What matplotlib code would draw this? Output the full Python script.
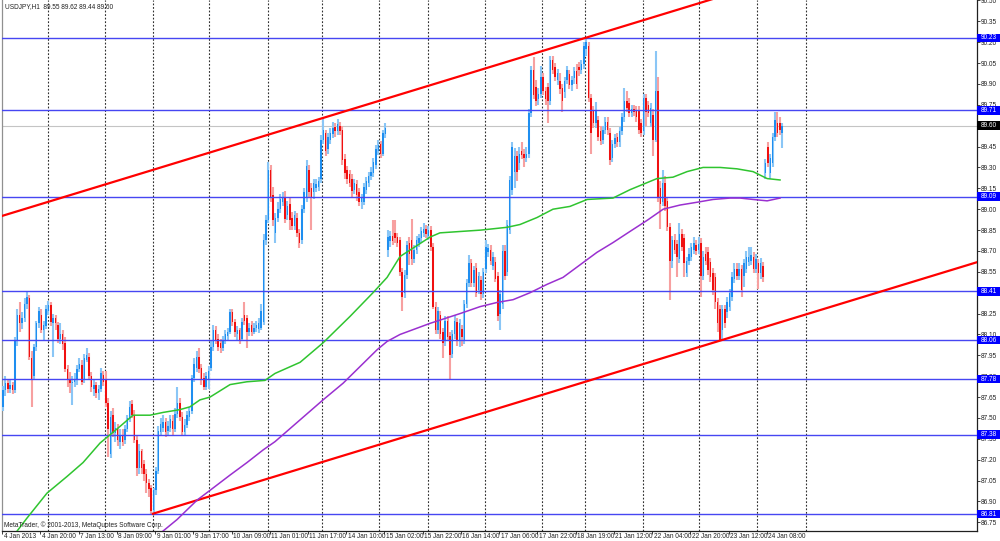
import matplotlib
matplotlib.use("Agg")
import matplotlib.pyplot as plt
import matplotlib.transforms as mtransforms
from matplotlib.patches import Rectangle

# USDJPY H1 bars, 4 Jan 2013 .. 24 Jan 2013
opens = [
    87.58, 87.70, 87.75, 87.71, 87.74, 87.70, 88.06, 88.24, 88.18, 88.22,
    88.32, 88.36, 87.93, 87.80, 88.01, 88.18, 88.24, 88.13, 88.16, 88.27,
    88.31, 88.18, 88.22, 88.17, 88.07, 88.10, 88.04, 87.85, 87.78, 87.75,
    87.76, 87.77, 87.85, 87.88, 87.77, 87.92, 87.94, 87.80, 87.71, 87.74,
    87.68, 87.71, 87.81, 87.78, 87.61, 87.24, 87.52, 87.39, 87.43, 87.33,
    87.38, 87.34, 87.42, 87.50, 87.60, 87.52, 87.34, 87.14, 87.26, 87.17,
    87.10, 87.03, 87.00, 86.84, 86.98, 87.12, 87.40, 87.43, 87.47, 87.41,
    87.43, 87.48, 87.42, 87.53, 87.61, 87.51, 87.40, 87.45, 87.51, 87.55,
    87.79, 87.86, 87.94, 87.86, 87.79, 87.72, 87.77, 87.86, 88.01, 88.13,
    88.07, 88.04, 88.00, 88.06, 88.09, 88.12, 88.26, 88.19, 88.10, 88.13,
    88.07, 88.24, 88.22, 88.12, 88.17, 88.12, 88.15, 88.14, 88.15, 88.19,
    88.78, 88.92, 89.28, 89.10, 88.83, 88.94, 89.00, 89.05, 89.08, 88.96,
    89.04, 88.94, 88.88, 88.94, 88.83, 88.78, 89.00, 89.09, 89.28, 89.15,
    89.12, 89.15, 89.16, 89.22, 89.50, 89.55, 89.43, 89.50, 89.54, 89.59,
    89.56, 89.60, 89.57, 89.36, 89.28, 89.25, 89.22, 89.14, 89.18, 89.12,
    89.05, 89.05, 89.14, 89.19, 89.24, 89.26, 89.32, 89.42, 89.47, 89.40,
    89.54, 88.71, 88.77, 88.81, 88.83, 88.80, 88.78, 88.55, 88.40, 88.53,
    88.76, 88.78, 88.64, 88.71, 88.76, 88.79, 88.83, 88.86, 88.81, 88.85,
    88.73, 88.30, 88.13, 88.24, 88.12, 88.05, 88.20, 88.09, 87.96, 88.10,
    88.19, 88.05, 88.14, 88.06, 88.32, 88.47, 88.61, 88.47, 88.58, 88.42,
    88.49, 88.39, 88.57, 88.69, 88.71, 88.59, 88.62, 88.52, 88.25, 88.32,
    88.70, 88.55, 88.85, 89.14, 89.27, 89.38, 89.33, 89.42, 89.40, 89.37,
    89.40, 89.69, 90.00, 89.88, 89.79, 89.83, 89.95, 89.85, 89.88, 89.78,
    90.07, 90.02, 89.93, 89.92, 89.87, 89.84, 89.93, 89.97, 89.89, 89.94,
    89.99, 90.02, 90.00, 90.04, 90.15, 90.17, 89.80, 89.71, 89.62, 89.64,
    89.56, 89.50, 89.57, 89.63, 89.55, 89.37, 89.47, 89.52, 89.48, 89.56,
    89.66, 89.78, 89.76, 89.69, 89.72, 89.71, 89.71, 89.62, 89.56, 89.80,
    89.75, 89.62, 89.68, 89.50, 89.85, 89.15, 89.05, 89.19, 89.06, 88.87,
    88.63, 88.78, 88.75, 88.64, 88.82, 88.79, 88.54, 88.63, 88.66, 88.71,
    88.74, 88.71, 88.76, 88.52, 88.68, 88.69, 88.62, 88.54, 88.51, 88.33,
    88.28, 88.13, 88.28, 88.26, 88.30, 88.37, 88.50, 88.57, 88.52, 88.57,
    88.52, 88.57, 88.62, 88.63, 88.66, 88.57, 88.61, 88.54, 88.59, 89.26,
    89.45, 89.26, 89.33, 89.52, 89.62, 89.62, 89.55,
]
highs = [
    87.73, 87.80, 87.78, 87.77, 87.76, 88.08, 88.28, 88.33, 88.26, 88.36,
    88.41, 88.38, 87.98, 88.03, 88.20, 88.30, 88.28, 88.20, 88.31, 88.34,
    88.33, 88.25, 88.24, 88.19, 88.18, 88.13, 88.08, 87.88, 87.83, 87.80,
    87.82, 87.88, 87.93, 87.92, 87.96, 88.00, 87.97, 87.83, 87.77, 87.76,
    87.74, 87.86, 87.84, 87.84, 87.64, 87.55, 87.57, 87.47, 87.46, 87.42,
    87.42, 87.45, 87.52, 87.62, 87.63, 87.56, 87.38, 87.31, 87.28, 87.20,
    87.13, 87.06, 87.02, 87.00, 87.15, 87.44, 87.50, 87.52, 87.50, 87.48,
    87.52, 87.52, 87.57, 87.72, 87.64, 87.54, 87.49, 87.55, 87.58, 87.81,
    87.93, 87.98, 88.00, 87.89, 87.82, 87.83, 87.87, 88.05, 88.17, 88.16,
    88.10, 88.07, 88.09, 88.13, 88.15, 88.28, 88.28, 88.21, 88.16, 88.15,
    88.22, 88.33, 88.24, 88.18, 88.20, 88.18, 88.20, 88.22, 88.32, 88.82,
    88.96, 89.34, 89.32, 89.16, 88.97, 89.05, 89.11, 89.12, 89.13, 89.06,
    89.08, 88.98, 88.99, 88.97, 88.86, 89.03, 89.15, 89.35, 89.32, 89.19,
    89.22, 89.22, 89.23, 89.53, 89.66, 89.57, 89.55, 89.58, 89.63, 89.62,
    89.65, 89.63, 89.60, 89.40, 89.31, 89.28, 89.25, 89.22, 89.21, 89.15,
    89.11, 89.19, 89.23, 89.27, 89.30, 89.37, 89.46, 89.50, 89.49, 89.57,
    89.62, 88.85, 88.84, 88.92, 88.92, 88.83, 88.80, 88.58, 88.56, 88.77,
    88.80, 88.93, 88.74, 88.81, 88.82, 88.87, 88.90, 88.89, 88.88, 88.88,
    88.76, 88.33, 88.30, 88.27, 88.15, 88.23, 88.23, 88.12, 88.13, 88.24,
    88.22, 88.21, 88.17, 88.35, 88.50, 88.67, 88.64, 88.59, 88.61, 88.55,
    88.52, 88.58, 88.78, 88.75, 88.74, 88.69, 88.66, 88.55, 88.42, 88.74,
    88.74, 88.92, 89.24, 89.48, 89.44, 89.42, 89.45, 89.48, 89.43, 89.45,
    89.72, 90.03, 90.09, 89.93, 89.87, 90.03, 89.98, 89.88, 89.91, 90.10,
    90.10, 90.05, 90.01, 89.98, 89.90, 89.95, 90.03, 90.00, 89.96, 90.02,
    90.04, 90.06, 90.07, 90.20, 90.23, 90.20, 89.83, 89.74, 89.77, 89.67,
    89.60, 89.60, 89.66, 89.66, 89.58, 89.50, 89.54, 89.55, 89.59, 89.69,
    89.87, 89.85, 89.80, 89.75, 89.75, 89.74, 89.74, 89.65, 89.83, 89.83,
    89.78, 89.76, 89.72, 90.14, 89.95, 89.20, 89.28, 89.24, 89.09, 88.90,
    88.81, 88.82, 88.78, 88.90, 88.86, 88.82, 88.66, 88.72, 88.76, 88.80,
    88.78, 88.80, 88.79, 88.70, 88.73, 88.73, 88.65, 88.58, 88.54, 88.36,
    88.31, 88.31, 88.31, 88.37, 88.43, 88.55, 88.61, 88.61, 88.61, 88.60,
    88.64, 88.70, 88.73, 88.73, 88.69, 88.68, 88.64, 88.65, 88.62, 89.36,
    89.48, 89.40, 89.55, 89.70, 89.70, 89.66, 89.62,
]
lows = [
    87.55, 87.66, 87.68, 87.68, 87.67, 87.68, 88.02, 88.12, 88.14, 88.19,
    88.28, 87.92, 87.58, 87.78, 87.98, 88.15, 88.11, 88.05, 88.14, 88.24,
    88.16, 87.94, 88.13, 88.04, 88.03, 87.99, 87.83, 87.72, 87.68, 87.59,
    87.72, 87.74, 87.83, 87.74, 87.75, 87.90, 87.77, 87.69, 87.66, 87.64,
    87.63, 87.69, 87.73, 87.58, 87.22, 87.21, 87.36, 87.33, 87.30, 87.28,
    87.30, 87.31, 87.40, 87.47, 87.50, 87.32, 87.08, 87.10, 87.10, 87.05,
    86.96, 86.93, 86.81, 86.82, 86.95, 87.10, 87.37, 87.40, 87.36, 87.38,
    87.40, 87.37, 87.40, 87.50, 87.48, 87.37, 87.37, 87.43, 87.48, 87.53,
    87.76, 87.83, 87.82, 87.74, 87.70, 87.70, 87.71, 87.84, 87.98, 88.03,
    87.98, 87.97, 87.98, 88.03, 88.06, 88.10, 88.16, 88.08, 88.06, 88.03,
    88.05, 88.17, 88.00, 88.09, 88.09, 88.10, 88.12, 88.11, 88.13, 88.17,
    88.74, 88.90, 89.05, 88.88, 88.76, 88.91, 88.97, 89.02, 88.90, 88.92,
    88.85, 88.85, 88.85, 88.80, 88.72, 88.75, 88.97, 89.05, 89.08, 88.85,
    89.07, 89.12, 89.13, 89.19, 89.47, 89.38, 89.40, 89.47, 89.51, 89.52,
    89.53, 89.53, 89.32, 89.22, 89.18, 89.16, 89.08, 89.11, 89.06, 89.02,
    89.00, 89.03, 89.11, 89.16, 89.21, 89.23, 89.29, 89.39, 89.37, 89.38,
    89.51, 88.66, 88.73, 88.74, 88.76, 88.73, 88.52, 88.27, 88.36, 88.50,
    88.60, 88.60, 88.61, 88.68, 88.73, 88.76, 88.80, 88.79, 88.78, 88.70,
    88.28, 88.10, 88.10, 88.07, 87.93, 88.02, 88.05, 87.77, 87.93, 88.07,
    88.02, 88.01, 88.02, 88.03, 88.29, 88.44, 88.44, 88.44, 88.37, 88.39,
    88.35, 88.36, 88.54, 88.66, 88.60, 88.56, 88.48, 88.20, 88.13, 88.28,
    88.49, 88.52, 88.82, 89.10, 89.15, 89.20, 89.28, 89.36, 89.30, 89.34,
    89.37, 89.66, 89.79, 89.74, 89.75, 89.80, 89.82, 89.75, 89.62, 89.75,
    89.97, 89.92, 89.89, 89.83, 89.70, 89.80, 89.90, 89.86, 89.85, 89.90,
    89.86, 89.96, 89.97, 90.01, 90.10, 89.77, 89.40, 89.58, 89.58, 89.49,
    89.46, 89.47, 89.54, 89.53, 89.32, 89.34, 89.44, 89.45, 89.45, 89.53,
    89.63, 89.70, 89.66, 89.66, 89.67, 89.63, 89.54, 89.52, 89.53, 89.60,
    89.66, 89.59, 89.38, 89.48, 89.05, 88.86, 89.02, 88.99, 88.84, 88.35,
    88.58, 88.68, 88.51, 88.61, 88.70, 88.51, 88.51, 88.60, 88.63, 88.68,
    88.67, 88.68, 88.37, 88.49, 88.60, 88.53, 88.48, 88.38, 88.28, 88.12,
    88.05, 88.06, 88.15, 88.22, 88.27, 88.34, 88.47, 88.49, 88.49, 88.37,
    88.44, 88.54, 88.59, 88.60, 88.54, 88.54, 88.43, 88.50, 88.48, 89.22,
    89.30, 89.22, 89.30, 89.49, 89.52, 89.53, 89.44,
]
closes = [
    87.70, 87.75, 87.71, 87.74, 87.70, 88.06, 88.24, 88.18, 88.22, 88.32,
    88.37, 87.94, 87.78, 88.01, 88.18, 88.27, 88.13, 88.17, 88.28, 88.31,
    88.19, 88.22, 88.18, 88.07, 88.10, 88.03, 87.85, 87.78, 87.75, 87.76,
    87.78, 87.85, 87.89, 87.76, 87.93, 87.95, 87.80, 87.72, 87.74, 87.68,
    87.71, 87.82, 87.76, 87.61, 87.42, 87.51, 87.39, 87.43, 87.34, 87.38,
    87.33, 87.42, 87.50, 87.58, 87.52, 87.34, 87.14, 87.26, 87.14, 87.10,
    87.03, 86.99, 86.83, 86.98, 87.12, 87.41, 87.46, 87.47, 87.40, 87.44,
    87.49, 87.42, 87.53, 87.61, 87.51, 87.40, 87.45, 87.52, 87.55, 87.79,
    87.89, 87.94, 87.85, 87.77, 87.72, 87.80, 87.84, 88.01, 88.13, 88.06,
    88.01, 88.00, 88.06, 88.10, 88.12, 88.26, 88.19, 88.12, 88.13, 88.06,
    88.19, 88.20, 88.12, 88.15, 88.12, 88.15, 88.17, 88.18, 88.27, 88.78,
    88.92, 89.28, 89.08, 88.92, 88.94, 89.00, 89.07, 89.09, 88.93, 89.02,
    88.92, 88.88, 88.96, 88.83, 88.76, 89.00, 89.12, 89.31, 89.12, 89.09,
    89.19, 89.18, 89.20, 89.50, 89.57, 89.42, 89.52, 89.55, 89.58, 89.56,
    89.61, 89.56, 89.35, 89.26, 89.22, 89.19, 89.13, 89.19, 89.10, 89.05,
    89.08, 89.16, 89.20, 89.24, 89.27, 89.34, 89.43, 89.46, 89.40, 89.55,
    89.58, 88.80, 88.81, 88.77, 88.79, 88.76, 88.55, 88.37, 88.53, 88.74,
    88.68, 88.64, 88.71, 88.78, 88.79, 88.84, 88.86, 88.82, 88.85, 88.73,
    88.30, 88.13, 88.27, 88.10, 88.04, 88.20, 88.08, 87.95, 88.10, 88.20,
    88.05, 88.18, 88.08, 88.32, 88.47, 88.61, 88.47, 88.56, 88.40, 88.52,
    88.39, 88.55, 88.73, 88.72, 88.63, 88.66, 88.50, 88.23, 88.39, 88.70,
    88.52, 88.89, 89.21, 89.45, 89.38, 89.27, 89.40, 89.39, 89.37, 89.40,
    89.69, 90.00, 89.82, 89.78, 89.83, 89.95, 89.85, 89.79, 89.78, 90.07,
    90.00, 89.95, 89.98, 89.86, 89.78, 89.92, 90.00, 89.89, 89.93, 89.99,
    89.90, 90.00, 90.04, 90.17, 90.20, 89.80, 89.55, 89.62, 89.71, 89.52,
    89.49, 89.57, 89.63, 89.57, 89.35, 89.47, 89.51, 89.48, 89.56, 89.66,
    89.78, 89.73, 89.69, 89.72, 89.70, 89.66, 89.57, 89.55, 89.80, 89.70,
    89.69, 89.73, 89.50, 89.85, 89.09, 89.04, 89.19, 89.02, 88.87, 88.63,
    88.78, 88.71, 88.66, 88.82, 88.73, 88.61, 88.63, 88.68, 88.73, 88.76,
    88.70, 88.75, 88.52, 88.66, 88.63, 88.56, 88.51, 88.42, 88.33, 88.18,
    88.06, 88.28, 88.18, 88.33, 88.40, 88.51, 88.57, 88.52, 88.57, 88.42,
    88.61, 88.66, 88.66, 88.67, 88.57, 88.64, 88.54, 88.61, 88.51, 89.33,
    89.33, 89.37, 89.52, 89.64, 89.55, 89.57, 89.60,
]

# moving averages (bar index, price)
green_ma_bars = [2, 10, 18.4, 26.8, 33.5, 40.6, 49, 54.4, 61.5, 67, 74, 78.2,
                 82.4, 86.6, 95, 102, 109.6, 113.8, 124.3, 133.9, 145.2, 154.8,
                 160.7, 166.1, 178.7, 182.8, 200, 210.9, 216.3, 223.4, 230.1,
                 237.2, 244.4, 255.2, 262.3, 273.6, 280.3, 286.2, 292.9, 300,
                 307.1, 313.8, 319.7, 325.1]
green_ma_vals = [86.60, 86.78, 86.96, 87.08, 87.18, 87.32, 87.44, 87.52, 87.52,
                 87.54, 87.56, 87.58, 87.63, 87.65, 87.74, 87.76, 87.77, 87.82,
                 87.90, 88.04, 88.23, 88.40, 88.51, 88.66, 88.80, 88.83, 88.85,
                 88.87, 88.89, 88.94, 89.00, 89.02, 89.07, 89.08, 89.14, 89.22,
                 89.23, 89.27, 89.30, 89.30, 89.29, 89.27, 89.22, 89.21]
purple_ma_bars = [65, 72.8, 81.2, 86.6, 95, 102.1, 108.8, 113.8, 133.9, 142.3,
                  149.4, 156.5, 160.7, 166.1, 178.7, 191.2, 199.6, 206.7, 213.4,
                  220.5, 227.6, 234.3, 241.4, 248.5, 255.2, 262.3, 269.5, 276.2,
                  283.3, 290.4, 297.1, 304.2, 308.4, 313.8, 319.7, 325.1]
purple_ma_vals = [86.66, 86.77, 86.91, 86.98, 87.09, 87.18, 87.27, 87.33, 87.63,
                  87.75, 87.87, 87.99, 88.05, 88.10, 88.18, 88.25, 88.30, 88.33,
                  88.35, 88.40, 88.46, 88.51, 88.60, 88.69, 88.76, 88.84, 88.92,
                  89.00, 89.03, 89.05, 89.07, 89.08, 89.08, 89.07, 89.06, 89.08]

# drawn objects
level_prices = [90.23, 89.71, 89.09, 88.41, 88.06, 87.78, 87.38, 86.81]
current_price = 89.60
lower_trend_bars = [62.3, 300.8]
lower_trend_prices = [86.81, 88.06]
upper_anchor_bar = 243.5
upper_anchor_price = 90.23
day_separators = [18.8, 42.7, 62.8, 86.2, 110.9, 133.5, 157.3, 177.8, 201.7,
                  225.5, 243.5, 267.8, 291.2, 315.5, 336.0]
time_labels = ["4 Jan 2013", "4 Jan 20:00", "7 Jan 13:00", "8 Jan 09:00",
               "9 Jan 01:00", "9 Jan 17:00", "10 Jan 09:00", "11 Jan 01:00",
               "11 Jan 17:00", "14 Jan 10:00", "15 Jan 02:00", "15 Jan 22:00",
               "16 Jan 14:00", "17 Jan 06:00", "17 Jan 22:00", "18 Jan 19:00",
               "21 Jan 12:00", "22 Jan 04:00", "22 Jan 20:00", "23 Jan 12:00",
               "24 Jan 08:00"]
bars_per_label = 16

FONT = "Liberation Sans"
FS = 4.7
INK = "#202020"

fig = plt.figure(figsize=(10, 5.41), dpi=100)
ax = fig.add_axes([0.002, 10 / 541, 0.975, 531 / 541])
ax.set_xlim(-0.42, 407.5)
ax.set_ylim(86.688, 90.503)

# period separators
for b in day_separators:
    ax.axvline(b, color="#303030", lw=0.8, linestyle=(0, (1.6, 1.6)), zorder=1)

# candles
idx = list(range(len(closes)))
up = [c >= o for o, c in zip(opens, closes)]
wick_col = ["#8ac6f6" if u else "#f7a0a0" for u in up]
body_col = ["#1e8ef0" if u else "#f01010" for u in up]
ax.vlines(idx, lows, highs, colors=wick_col, lw=1.5, zorder=3)
body_low = [min(o, c) for o, c in zip(opens, closes)]
body_h = [max(abs(c - o), 0.012) for o, c in zip(opens, closes)]
ax.bar(idx, body_h, bottom=body_low, width=0.62, color=body_col, lw=0, zorder=4)

# horizontal levels + current price line
ax.axhline(current_price, color="#c4c4c4", lw=0.8, zorder=2)
for p in level_prices:
    ax.axhline(p, color="#4646f2", lw=1.0, zorder=5)

# channel lines (rays from their anchors)
slope = (lower_trend_prices[1] - lower_trend_prices[0]) / (lower_trend_bars[1] - lower_trend_bars[0])
far = 430
ax.plot([lower_trend_bars[0], far],
        [lower_trend_prices[0], lower_trend_prices[0] + slope * (far - lower_trend_bars[0])],
        color="#ff0000", lw=1.6, zorder=6, solid_capstyle="butt")
ax.plot([-5, far],
        [upper_anchor_price + slope * (-5 - upper_anchor_bar),
         upper_anchor_price + slope * (far - upper_anchor_bar)],
        color="#ff0000", lw=1.6, zorder=6, solid_capstyle="butt")

# moving averages
ax.plot(green_ma_bars, green_ma_vals, color="#2fc42f", lw=1.1, zorder=6)
ax.plot(purple_ma_bars, purple_ma_vals, color="#9a30d0", lw=1.1, zorder=6)

# frame
ax.spines["top"].set_visible(False)
ax.spines["left"].set_color("#909090")
ax.spines["right"].set_color(INK)
ax.spines["bottom"].set_color(INK)
for s in ("left", "right", "bottom"):
    ax.spines[s].set_linewidth(0.9)

# price scale (labels hidden under a tag are skipped)
ax.yaxis.tick_right()
yt = [round(86.75 + 0.15 * k, 2) for k in range(26)]
covered = [v for v in yt
           if any(abs(v - p) < 0.015 for p in level_prices + [current_price])]
ax.set_yticks(yt)
ax.set_yticklabels(["" if v in covered else f"{v:.2f}" for v in yt],
                   fontsize=FS, family=FONT, color=INK)
ax.tick_params(axis="y", direction="out", length=2.2, width=0.6, pad=0.8, colors=INK)

# time scale: ticks at label starts, text just right of each tick
xt = [k * bars_per_label - 0.4 for k in range(len(time_labels))]
ax.set_xticks(xt)
ax.set_xticklabels([])
ax.tick_params(axis="x", direction="out", length=2.5, width=0.6, colors=INK)
xtr = mtransforms.blended_transform_factory(ax.transData, ax.transAxes)
shift = mtransforms.ScaledTranslation(1.5 / 100, -1.5 / 100, fig.dpi_scale_trans)
for x, lab in zip(xt, time_labels):
    ax.text(x, 0, lab, transform=xtr + shift, fontsize=FS, family=FONT, color=INK,
            ha="left", va="top", clip_on=False)

# price tags on the right scale
tr = mtransforms.blended_transform_factory(ax.transAxes, ax.transData)
tag_w = 23 / 975
tag_h = 8.5 / 139.2
for p, fc in [(p, "#0000ff") for p in level_prices] + [(current_price, "#000000")]:
    ax.add_patch(Rectangle((1.0, p - tag_h / 2), tag_w, tag_h, transform=tr,
                           facecolor=fc, edgecolor="none", clip_on=False, zorder=10))
    ax.text(1.0 + 4 / 975, p, f"{p:.2f}", transform=tr, fontsize=FS, family=FONT,
            color="white", va="center", ha="left", clip_on=False, zorder=11)

# header and copyright
ax.text(3 / 975, 1 - 7 / 531,
        f"USDJPY,H1  {opens[-1]:.2f} {highs[-1]:.2f} {lows[-1]:.2f} {closes[-1]:.2f}",
        transform=ax.transAxes, fontsize=FS, family=FONT, color=INK,
        va="center", ha="left", zorder=12)
ax.text(2 / 975, 6 / 531, "MetaTrader, \u00a9 2001-2013, MetaQuotes Software Corp.",
        transform=ax.transAxes, fontsize=FS, family=FONT, color=INK,
        va="center", ha="left", zorder=12)

fig.savefig("out.png", dpi=100, facecolor="white")
plt.close(fig)
